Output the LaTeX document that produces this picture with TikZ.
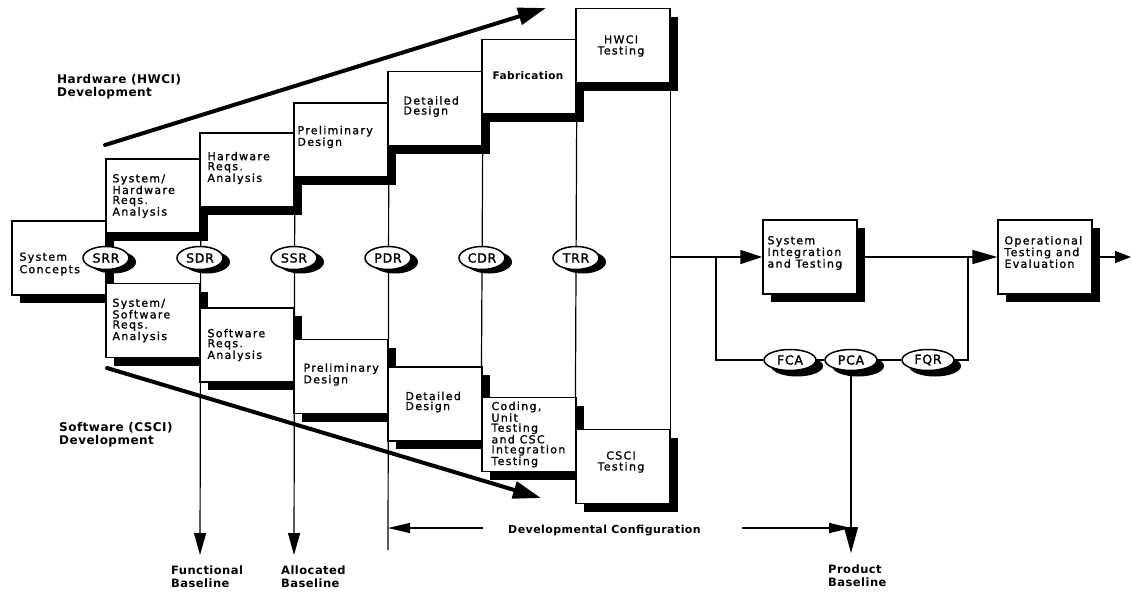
\documentclass[tikz,border=0pt]{standalone}
\usepackage{fontspec}
\setmainfont{DejaVu Sans}
\newfontfamily\boxfam[LetterSpace=12,FakeBold=1.2]{DejaVu Sans}
\newfontfamily\lblfam[LetterSpace=4]{DejaVu Sans}
\newfontfamily\revfam[LetterSpace=6,FakeBold=1.5]{DejaVu Sans}
\usetikzlibrary{arrows.meta,shapes.geometric,shadows,backgrounds}
\begin{document}
\begin{tikzpicture}[x=1pt,y=-1pt,
  box/.style={draw, fill=white, line width=1.4pt, minimum width=94pt, minimum height=74pt, inner sep=0pt,
    drop shadow={shadow xshift=8pt, shadow yshift=-8pt, fill=black, opacity=1}},
  blbl/.style={anchor=west, align=left, inner sep=0pt, font=\boxfam\fontsize{11}{10}\selectfont},
  clbl/.style={align=center, inner sep=0pt, font=\boxfam\fontsize{11}{11}\selectfont},
  rev/.style={ellipse, draw, fill=white, line width=1.5pt, minimum width=46pt, minimum height=23pt, inner sep=0pt,
    font=\revfam\fontsize{12.5}{12.5}\selectfont,
    drop shadow={shadow xshift=7pt, shadow yshift=-4pt, fill=black, opacity=1}},
  aud/.style={ellipse, draw, fill=white, line width=1.5pt, minimum width=52pt, minimum height=21pt, inner sep=0pt,
    font=\revfam\fontsize{12.5}{12.5}\selectfont,
    drop shadow={shadow xshift=7pt, shadow yshift=-6pt, fill=black, opacity=1}},
  lbl/.style={anchor=west, align=left, inner sep=0pt, font=\lblfam\bfseries\fontsize{11.5}{13}\selectfont},
  ln/.style={line width=1.2pt},
  flow/.style={line width=1.6pt},
  big/.style={line width=4pt, line cap=round, -{Triangle[length=28pt,width=17pt]}},
  tipa/.style={-{Triangle[length=22pt,width=12pt]}}
]
\useasboundingbox (0,0) rectangle (1132,592);

% ---------------- boxes ----------------
\node[box] (sc) at (59,258) {};
\node[blbl, font=\boxfam\fontsize{11}{12.5}\selectfont] (scT) at ([xshift=8pt,yshift=-6pt]sc.west) {System\\Concepts};

\node[box] (shra) at (153,196) {};
\node[blbl] (shraT) at ([xshift=7pt]shra.west) {System/\\Hardware\\Reqs.\\Analysis};
\node[box] (hra) at (247,170) {};
\node[blbl] (hraT) at ([xshift=8pt,yshift=2pt]hra.west) {Hardware\\Reqs.\\Analysis};
\node[box] (hpd) at (341,140) {};
\node[blbl] (hpdT) at ([xshift=4pt,yshift=3pt]hpd.west) {Preliminary\\Design};
\node[box] (hdd) at (435,108.5) {};
\node[blbl] (hddT) at ([xshift=16pt,yshift=2pt]hdd.west) {Detailed\\Design};
\node[box] (fab) at (529,76.5) {};
\node[clbl, font=\lblfam\bfseries\fontsize{10.5}{11}\selectfont] (fabT) at (528,76) {Fabrication};
\node[box] (hwt) at (623,45.5) {};
\node[clbl] (hwtT) at (621,46) {HWCI\\Testing};

\node[box] (ssra) at (153,320.5) {};
\node[blbl] (ssraT) at ([xshift=7pt]ssra.west) {System/\\Software\\Reqs.\\Analysis};
\node[box] (sra) at (247,345) {};
\node[blbl] (sraT) at ([xshift=8pt]sra.west) {Software\\Reqs.\\Analysis};
\node[box] (spd) at (341,376.5) {};
\node[blbl] (spdT) at ([xshift=10pt,yshift=2pt]spd.west) {Preliminary\\Design};
\node[box] (sdd) at (435,404) {};
\node[blbl] (sddT) at ([xshift=18pt,yshift=2pt]sdd.west) {Detailed\\Design};
\node[box] (cut) at (529,434.5) {};
\node[blbl] (cutT) at ([xshift=10pt]cut.west) {Coding,\\Unit\\Testing\\and CSC\\Integration\\Testing};
\node[box] (cst) at (623,466.5) {};
\node[clbl] (cstT) at (621,462) {CSCI\\Testing};

\node[box] (sit) at (810,257) {};
\node[blbl] (sitT) at ([xshift=5pt,yshift=4pt]sit.west) {System\\Integration\\and Testing};
\node[box] (ote) at (1045,257) {};
\node[blbl] (oteT) at ([xshift=7pt,yshift=5pt]ote.west) {Operational\\Testing and\\Evaluation};

% ---------------- reviews ----------------
\node[rev] (SRR) at (106,258) {SRR};
\node[rev] (SDR) at (200,258) {SDR};
\node[rev] (SSR) at (294,258) {SSR};
\node[rev] (PDR) at (388,258) {PDR};
\node[rev] (CDR) at (482,258) {CDR};
\node[rev] (TRR) at (576,258) {TRR};
\node[aud] (FCA) at (790,360) {FCA};
\node[aud] (PCA) at (851,360) {PCA};
\node[aud] (FQR) at (928,360) {FQR};

% ---------------- labels ----------------
\node[lbl, font=\lblfam\bfseries\fontsize{12}{13}\selectfont] (hwl) at (57,86.5) {Hardware (HWCI)\\Development};
\node[lbl, font=\lblfam\bfseries\fontsize{12}{13}\selectfont] (swl) at (59,434.5) {Software (CSCI)\\Development};
\node[lbl] (fbl) at (171,577) {Functional\\Baseline};
\node[lbl] (abl) at (281,577) {Allocated\\Baseline};
\node[lbl] (pbl) at (828,575.5) {Product\\Baseline};
\node[lbl, font=\lblfam\bfseries\fontsize{11}{13}\selectfont] (dc) at (508,530) {Developmental Configuration};

% ---------------- connectors (behind) ----------------
\begin{scope}[on background layer]
\fill[white] (0,0) rectangle (1132,592);
\coordinate (fbtip) at (200,555);
\coordinate (abtip) at (294,555);
\coordinate (pdrend) at (388,550);
\coordinate (pbtip) at (851,553);
\coordinate (j1) at (670,257);
\coordinate (j2) at (716,257);
\coordinate (j3) at (968,257);
\coordinate (outp) at (1131,257);
\coordinate (dcl) at (483,528);
\coordinate (dcr) at (742,528);
\draw[ln,tipa] (shra.south east) -- (fbtip);
\draw[ln,tipa] (hra.south east) -- (abtip);
\draw[ln] (hpd.south east) -- (pdrend);
\draw[ln] (hdd.south east) -- (cut.north west);
\draw[ln] (fab.south east) -- (cst.north west);
\draw[ln] (hwt.south east) -- (cst.north east);
\draw[flow,-{Triangle[length=22pt,width=14pt]}] (j1) -- (sit.west);
\draw[flow] (j2) |- (FCA.west);
\draw[flow] (FCA) -- (PCA);
\draw[flow] (PCA) -- (FQR);
\draw[flow] (FQR.east) -| (j3);
\draw[flow,-{Triangle[length=25pt,width=14pt]}] (sit.east) -- (ote.west);
\draw[flow,-{Triangle[length=16pt,width=12pt]}] (ote.east) -- (outp);
\draw[ln,-{Triangle[length=26pt,width=14pt]}] (PCA.south) -- (pbtip);
\draw[ln,-{Triangle[length=22pt,width=10pt]}] (dcl) -- (dcl -| pdrend);
\draw[ln,-{Triangle[length=22pt,width=10pt]}] (dcr) -- (dcr -| pbtip);
\end{scope}

% ---------------- big arrows ----------------
\coordinate (ha1) at (105,145);
\coordinate (ha2) at (546,8);
\coordinate (sa1) at (107,368);
\coordinate (sa2) at (541,498);
\draw[big] (ha1) -- (ha2);
\draw[big] (sa1) -- (sa2);
\end{tikzpicture}
\end{document}
